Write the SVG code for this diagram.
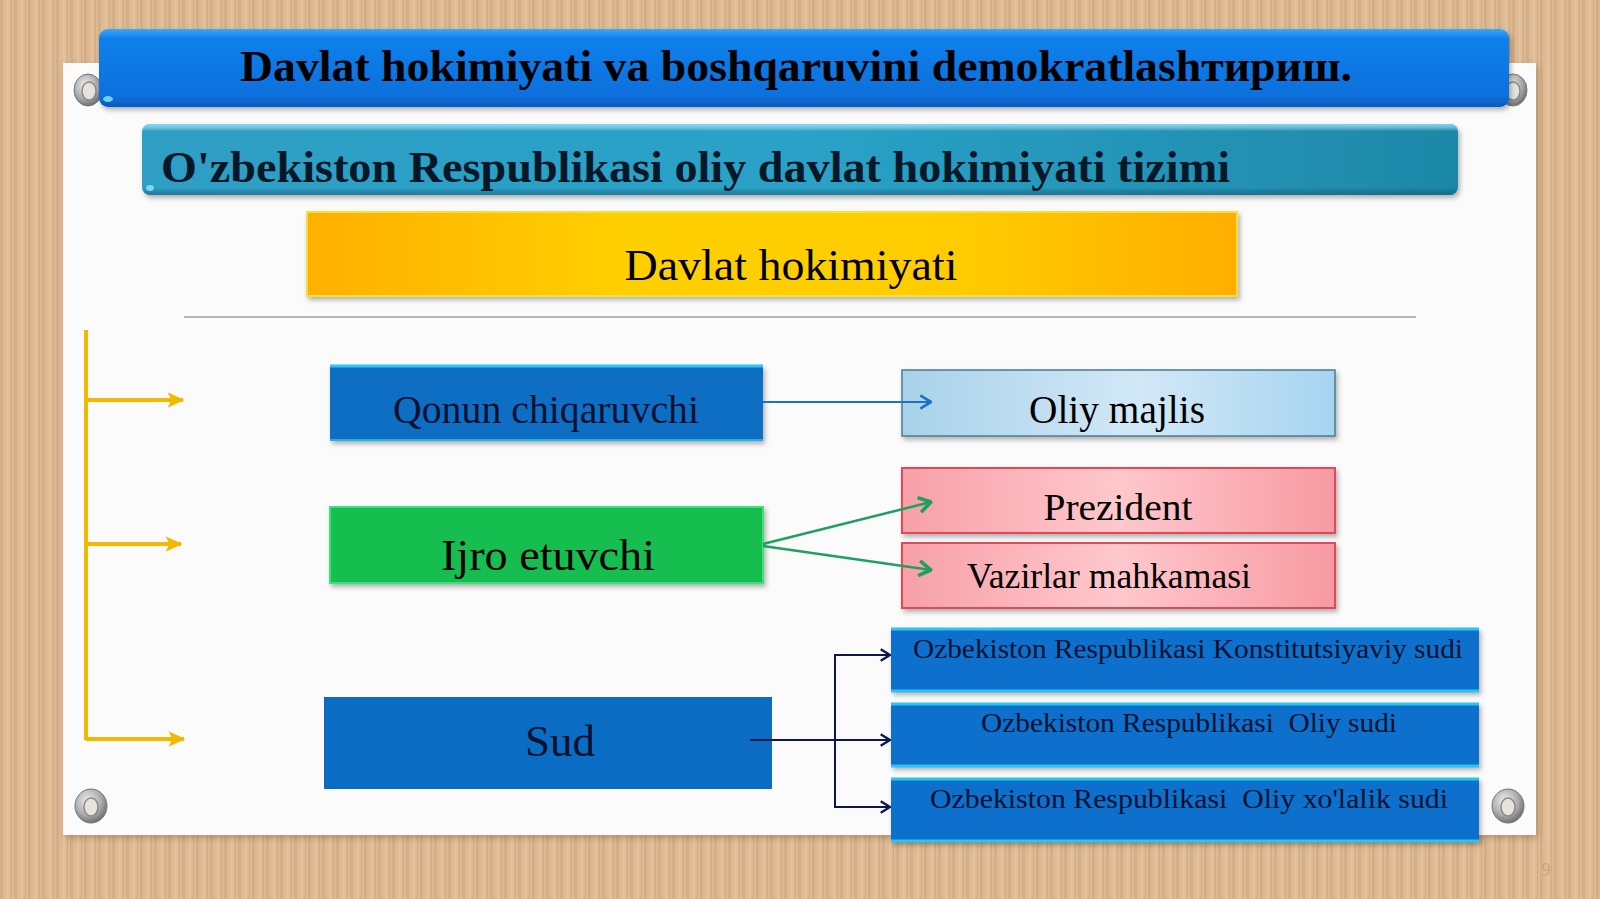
<svg xmlns="http://www.w3.org/2000/svg" width="1600" height="899" viewBox="0 0 1600 899">
<defs>
<pattern id="wood" width="14" height="899" patternUnits="userSpaceOnUse">
<rect width="14" height="899" fill="#DDBA94"/>
<rect x="0" width="3" height="899" fill="#D4AE87"/>
<rect x="7" width="2" height="899" fill="#E4C4A0"/>
<rect x="11" width="1" height="899" fill="#D2AB83"/>
</pattern>
<linearGradient id="gTitle" x1="0" y1="0" x2="0" y2="1">
<stop offset="0" stop-color="#3AA8FF"/>
<stop offset="0.12" stop-color="#0F80EC"/>
<stop offset="0.85" stop-color="#0870DC"/>
<stop offset="1" stop-color="#065CC0"/>
</linearGradient>
<linearGradient id="gTeal" x1="0" y1="0" x2="1" y2="0">
<stop offset="0" stop-color="#2E9EC4"/>
<stop offset="0.5" stop-color="#2AA2C8"/>
<stop offset="1" stop-color="#1E88A8"/>
</linearGradient>
<linearGradient id="gTealV" x1="0" y1="0" x2="0" y2="1">
<stop offset="0" stop-color="#7FE0FF" stop-opacity="0.9"/>
<stop offset="0.1" stop-color="#FFFFFF" stop-opacity="0"/>
<stop offset="0.9" stop-color="#000000" stop-opacity="0"/>
<stop offset="1" stop-color="#0A4060" stop-opacity="0.35"/>
</linearGradient>
<linearGradient id="gYellow" x1="0" y1="0" x2="1" y2="0">
<stop offset="0" stop-color="#FFB000"/>
<stop offset="0.35" stop-color="#FFD000"/>
<stop offset="0.7" stop-color="#FFCC00"/>
<stop offset="1" stop-color="#FFAE00"/>
</linearGradient>
<linearGradient id="gLight" x1="0" y1="0" x2="1" y2="0">
<stop offset="0" stop-color="#A8D2EA"/>
<stop offset="0.55" stop-color="#D2E8F6"/>
<stop offset="1" stop-color="#A6D4F0"/>
</linearGradient>
<linearGradient id="gPink" x1="0" y1="0" x2="1" y2="0">
<stop offset="0" stop-color="#F7A0A8"/>
<stop offset="0.5" stop-color="#FFC8CC"/>
<stop offset="1" stop-color="#F79AA2"/>
</linearGradient>
<radialGradient id="gPin" cx="0.4" cy="0.35" r="0.7">
<stop offset="0" stop-color="#F0F0F0"/>
<stop offset="0.6" stop-color="#ABABAB"/>
<stop offset="1" stop-color="#666666"/>
</radialGradient>
<filter id="sh" x="-5%" y="-20%" width="110%" height="150%">
<feDropShadow dx="2" dy="3" stdDeviation="2.5" flood-color="#000" flood-opacity="0.3"/>
</filter>
<filter id="shPaper" x="-5%" y="-5%" width="110%" height="110%">
<feDropShadow dx="2" dy="3" stdDeviation="3" flood-color="#6A4A2A" flood-opacity="0.35"/>
</filter>
<marker id="mYellow" viewBox="0 0 14 14" refX="13" refY="7" markerWidth="18" markerHeight="18" markerUnits="userSpaceOnUse" orient="auto">
<path d="M1,1 L14,7 L1,13 L4,7 Z" fill="#F5B800"/>
</marker>
<marker id="mBlue" viewBox="0 0 12 12" refX="11" refY="6" markerWidth="16" markerHeight="16" markerUnits="userSpaceOnUse" orient="auto">
<path d="M3,1 L11,6 L3,11" fill="none" stroke="#1E70C0" stroke-width="2"/>
</marker>
<marker id="mGreen" viewBox="0 0 12 12" refX="11" refY="6" markerWidth="18" markerHeight="18" markerUnits="userSpaceOnUse" orient="auto">
<path d="M3,1 L11,6 L3,11" fill="none" stroke="#1FA060" stroke-width="2.4"/>
</marker>
<marker id="mNavy" viewBox="0 0 12 12" refX="11" refY="6" markerWidth="14" markerHeight="14" markerUnits="userSpaceOnUse" orient="auto">
<path d="M3,1 L11,6 L3,11" fill="none" stroke="#0C1650" stroke-width="2"/>
</marker>
<style>
.serif{font-family:"Liberation Serif","Times New Roman",serif;}
.b{font-weight:bold;}
.dk{fill:#000000;}
.nv{fill:#081230;}
.cy{stroke:#2CC4F0;stroke-width:3;}
</style>
</defs>

<rect width="1600" height="899" fill="url(#wood)"/>
<rect x="63" y="63" width="1473" height="772" fill="#FBFBFB" filter="url(#shPaper)"/>

<g id="pins">
<g id="pin-tl"><ellipse cx="88" cy="90" rx="14" ry="16" fill="url(#gPin)" stroke="#777" stroke-width="1"/><ellipse cx="89" cy="91" rx="7" ry="9" fill="#E6E2DC" stroke="#888" stroke-width="1.5"/></g>
<g id="pin-tr"><ellipse cx="1513" cy="90" rx="14" ry="16" fill="url(#gPin)" stroke="#777" stroke-width="1"/><ellipse cx="1513" cy="91" rx="7" ry="9" fill="#E6E2DC" stroke="#888" stroke-width="1.5"/></g>
<g id="pin-bl"><ellipse cx="91" cy="806" rx="16" ry="17" fill="url(#gPin)" stroke="#777" stroke-width="1"/><ellipse cx="91" cy="807" rx="7" ry="9" fill="#E6E2DC" stroke="#888" stroke-width="1.5"/></g>
<g id="pin-br"><ellipse cx="1508" cy="806" rx="16" ry="17" fill="url(#gPin)" stroke="#777" stroke-width="1"/><ellipse cx="1508" cy="807" rx="7" ry="9" fill="#E6E2DC" stroke="#888" stroke-width="1.5"/></g>
</g>

<g id="title">
<rect x="99" y="29" width="1410" height="78" rx="9" fill="url(#gTitle)" filter="url(#sh)"/>
<ellipse cx="108" cy="99" rx="5" ry="3" fill="#8FE6FF" opacity="0.8"/>
<text class="serif b dk" x="796" y="81" font-size="44" text-anchor="middle" textLength="1112" lengthAdjust="spacingAndGlyphs">Davlat hokimiyati va boshqaruvini demokratlashтириш.</text>
</g>

<g id="subtitle">
<rect x="142" y="124" width="1316" height="71" rx="8" fill="url(#gTeal)" filter="url(#sh)"/>
<rect x="142" y="124" width="1316" height="71" rx="8" fill="url(#gTealV)"/>
<ellipse cx="150" cy="188" rx="4" ry="3" fill="#8FE6FF" opacity="0.8"/>
<text class="serif b" x="161" y="182" font-size="45" fill="#061828" textLength="1069" lengthAdjust="spacingAndGlyphs">O'zbekiston Respublikasi oliy davlat hokimiyati tizimi</text>
</g>

<g id="davlat">
<rect x="307" y="212" width="930" height="84" fill="url(#gYellow)" stroke="#F2E040" stroke-width="2" filter="url(#sh)"/>
<text class="serif dk" x="791" y="280" font-size="45" text-anchor="middle" textLength="333" lengthAdjust="spacingAndGlyphs">Davlat hokimiyati</text>
</g>

<line id="divider" x1="184" y1="317" x2="1416" y2="317" stroke="#BDB6AE" stroke-width="2"/>

<g id="qonun">
<rect x="330" y="365" width="433" height="76" fill="#0A6EC4" filter="url(#sh)"/>
<line x1="330" y1="366" x2="763" y2="366" class="cy"/>
<line x1="330" y1="440" x2="763" y2="440" stroke="#2CC4F0" stroke-width="1.5"/>
<text class="serif nv" x="546" y="423" font-size="39" text-anchor="middle" textLength="306" lengthAdjust="spacingAndGlyphs">Qonun chiqaruvchi</text>
</g>

<g id="ijro">
<rect x="330" y="507" width="433" height="76" fill="#12BE50" stroke="#3EE07A" stroke-width="2" filter="url(#sh)"/>
<text class="serif dk" x="548" y="570" font-size="45" text-anchor="middle" textLength="214" lengthAdjust="spacingAndGlyphs">Ijro etuvchi</text>
</g>

<g id="sud">
<rect x="324" y="697" width="448" height="92" fill="#0A6CC2"/>
<text class="serif nv" x="560" y="756" font-size="45" text-anchor="middle">Sud</text>
</g>

<g id="oliy-majlis">
<rect x="902" y="370" width="433" height="66" fill="url(#gLight)" stroke="#4C7A92" stroke-width="1.5" filter="url(#sh)"/>
<text class="serif dk" x="1117" y="423" font-size="40" text-anchor="middle" textLength="176" lengthAdjust="spacingAndGlyphs">Oliy majlis</text>
</g>

<g id="prezident">
<rect x="902" y="468" width="433" height="65" fill="url(#gPink)" stroke="#E04A5A" stroke-width="2" filter="url(#sh)"/>
<text class="serif dk" x="1118" y="520" font-size="38" text-anchor="middle" textLength="149" lengthAdjust="spacingAndGlyphs">Prezident</text>
</g>

<g id="vazirlar">
<rect x="902" y="543" width="433" height="65" fill="url(#gPink)" stroke="#E04A5A" stroke-width="2" filter="url(#sh)"/>
<text class="serif dk" x="1109" y="588" font-size="35" text-anchor="middle" textLength="284" lengthAdjust="spacingAndGlyphs">Vazirlar mahkamasi</text>
</g>

<g id="konstitutsiyaviy">
<rect x="891" y="628" width="588" height="64" fill="#0A70CC" filter="url(#sh)"/>
<line x1="891" y1="629" x2="1479" y2="629" class="cy"/>
<line x1="891" y1="691" x2="1479" y2="691" class="cy"/>
<text class="serif nv" x="1188" y="658" font-size="28" text-anchor="middle" textLength="550" lengthAdjust="spacingAndGlyphs">Ozbekiston Respublikasi Konstitutsiyaviy sudi</text>
</g>

<g id="oliy-sudi">
<rect x="891" y="703" width="588" height="64" fill="#0A70CC" filter="url(#sh)"/>
<line x1="891" y1="704" x2="1479" y2="704" class="cy"/>
<line x1="891" y1="766" x2="1479" y2="766" class="cy"/>
<text class="serif nv" x="1189" y="732" font-size="28" text-anchor="middle" textLength="416" lengthAdjust="spacingAndGlyphs" xml:space="preserve">Ozbekiston Respublikasi  Oliy sudi</text>
</g>

<g id="xojalik-sudi">
<rect x="891" y="778" width="588" height="64" fill="#0A70CC" filter="url(#sh)"/>
<line x1="891" y1="779" x2="1479" y2="779" class="cy"/>
<line x1="891" y1="841" x2="1479" y2="841" class="cy"/>
<text class="serif nv" x="1189" y="808" font-size="28" text-anchor="middle" textLength="518" lengthAdjust="spacingAndGlyphs" xml:space="preserve">Ozbekiston Respublikasi  Oliy xo'lalik sudi</text>
</g>

<g id="connectors" fill="none">
<path d="M86,330 L86,740" stroke="#F5B800" stroke-width="4"/>
<path d="M86,400 L183,400" stroke="#F5B800" stroke-width="4" marker-end="url(#mYellow)"/>
<path d="M86,544 L181,544" stroke="#F5B800" stroke-width="4" marker-end="url(#mYellow)"/>
<path d="M86,739 L184,739" stroke="#F5B800" stroke-width="4" marker-end="url(#mYellow)"/>
<path d="M763,402 L931,402" stroke="#1E70C0" stroke-width="2" marker-end="url(#mBlue)"/>
<path d="M763,544 L931,502" stroke="#1FA060" stroke-width="2.5" marker-end="url(#mGreen)"/>
<path d="M763,546 L931,570" stroke="#1FA060" stroke-width="2.5" marker-end="url(#mGreen)"/>
<path d="M750,740 L890,740" stroke="#0C1650" stroke-width="2" marker-end="url(#mNavy)"/>
<path d="M890,655 L835,655 L835,807 L890,807" stroke="#0C1650" stroke-width="2"/>
<path d="M870,655 L890,655" stroke="#0C1650" stroke-width="2" marker-end="url(#mNavy)"/>
<path d="M870,807 L890,807" stroke="#0C1650" stroke-width="2" marker-end="url(#mNavy)"/>
</g>

<text class="serif" x="1546" y="876" font-size="18" fill="#C9A47E" text-anchor="middle">9</text>
</svg>
